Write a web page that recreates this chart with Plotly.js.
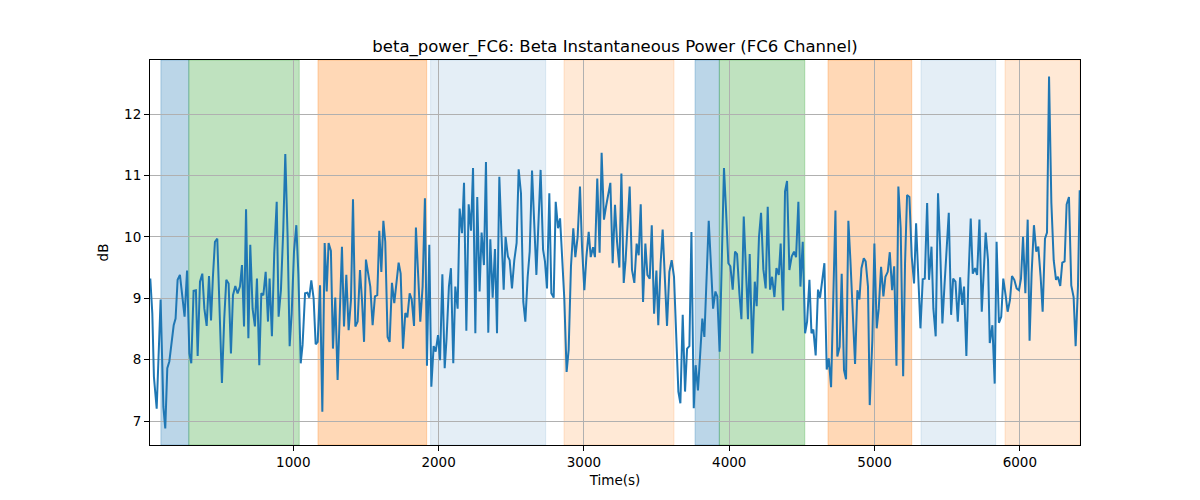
<!DOCTYPE html>
<html>
<head>
<meta charset="utf-8">
<script src="https://cdn.plot.ly/plotly-3.0.1.min.js"></script>
<style>
  body { margin: 0; background: #fff; }
  #chart { width: 1200px; height: 500px; }
</style>
</head>
<body>
<div id="chart"></div>
<script>
// time (s) of each sample
const times = [
  16, 30, 41, 60, 87, 106, 119, 133, 147, 163, 177, 190, 204, 220, 236, 252, 269, 285, 298, 314,
  330, 342, 358, 374, 388, 404, 420, 434, 447, 461, 477, 493, 509, 525, 539, 555, 571, 585, 601, 617,
  633, 647, 661, 675, 691, 704, 720, 736, 750, 766, 780, 794, 810, 826, 837,
  853, 869, 886, 899, 915, 931, 945, 961, 975, 989, 1005, 1021, 1035, 1051, 1064, 1081, 1097, 1110, 1124, 1140,
  1154, 1168, 1184, 1200, 1216, 1230, 1243, 1259, 1273, 1289, 1305, 1321, 1335, 1349, 1365, 1381, 1397, 1411, 1427, 1443,
  1459, 1473, 1487, 1500, 1516, 1530, 1546, 1562, 1578, 1592, 1606, 1620, 1633, 1649, 1663,
  1679, 1695, 1709, 1725, 1739, 1755, 1771, 1785, 1801, 1815, 1831, 1844, 1860, 1874, 1890, 1906, 1920, 1936, 1950, 1966,
  1980, 1996, 2010, 2026, 2042, 2055, 2071, 2085, 2101, 2115, 2131, 2145, 2161, 2175, 2191, 2207, 2223, 2237, 2253, 2266,
  2282, 2296, 2312, 2326, 2342, 2356, 2372, 2388, 2402, 2418, 2432, 2448, 2461, 2477, 2489,
  2505, 2521, 2537, 2551, 2567, 2583, 2597, 2613, 2627, 2643, 2657, 2673, 2689, 2702, 2719, 2732, 2746, 2762, 2776, 2792,
  2806, 2822, 2836, 2852, 2865, 2881, 2895, 2911, 2927, 2941, 2957, 2973, 2987, 3003, 3017, 3033, 3047, 3063, 3076, 3092,
  3108, 3122, 3138, 3152, 3168, 3182, 3198, 3214, 3228, 3244, 3258, 3274, 3287, 3303, 3315,
  3331, 3347, 3363, 3377, 3391, 3407, 3423, 3437, 3453, 3467, 3483, 3499, 3512, 3528, 3542, 3558, 3572, 3588, 3604, 3620,
  3634, 3650, 3664, 3680, 3696, 3710, 3726, 3740, 3756, 3769, 3785, 3799, 3815, 3829, 3845, 3859, 3875, 3889, 3905, 3918,
  3934, 3948, 3964, 3978, 3994, 4008, 4024, 4040, 4054, 4070, 4084, 4100, 4113, 4129, 4141,
  4159, 4176, 4189, 4205, 4219, 4235, 4251, 4265, 4281, 4295, 4311, 4325, 4341, 4354, 4371, 4384, 4398, 4414, 4430, 4446,
  4460, 4476, 4490, 4506, 4522, 4536, 4552, 4566, 4579, 4595, 4611, 4625, 4641, 4655, 4671, 4685, 4701, 4715, 4731, 4744,
  4760, 4774, 4790, 4804, 4820, 4834, 4850, 4866, 4882, 4896, 4910, 4926, 4939, 4955, 4967,
  4985, 4999, 5015, 5029, 5045, 5061, 5075, 5091, 5105, 5121, 5135, 5151, 5164, 5180, 5197, 5210, 5224, 5240, 5256, 5272,
  5286, 5302, 5316, 5332, 5346, 5362, 5375, 5392, 5405, 5421, 5437, 5451, 5467, 5481, 5497, 5511, 5527, 5541, 5557, 5573,
  5589, 5603, 5616, 5632, 5646, 5662, 5676, 5692, 5706, 5722, 5738, 5752, 5765, 5781, 5793,
  5811, 5827, 5840, 5856, 5872, 5886, 5902, 5916, 5932, 5946, 5962, 5978, 5994, 6008, 6022, 6038, 6054, 6067, 6081, 6097,
  6113, 6127, 6143, 6157, 6173, 6187, 6201, 6217, 6233, 6249, 6262, 6278, 6292, 6308, 6322, 6338, 6354, 6370, 6384, 6400, 6412
];

// beta power in dB
const power = [
  9.32, 8.75, 7.72, 7.2, 8.98, 7.23, 6.88, 7.86, 7.97, 8.27, 8.56, 8.67, 9.3, 9.38, 9.08, 8.7, 9.45, 8.1, 7.94, 9.12,
  9.13, 8.06, 9.27, 9.4, 8.83, 8.55, 9.36, 8.64, 9.35, 9.92, 9.97, 8.7, 7.62, 8.67, 9.3, 9.24, 8.1, 9.05, 9.2, 9.08,
  9.19, 9.54, 8.54, 10.45, 8.35, 9.87, 8.83, 8.54, 9.32, 7.91, 9.08, 9.05, 9.43, 8.62, 9.32,
  8.38, 9.73, 10.57, 8.7, 9.13, 10.11, 11.35, 10.0, 8.22, 8.75, 9.76, 10.19, 9.4, 7.94, 8.24, 9.08, 9.09, 9.01, 9.29, 9.0,
  8.25, 8.29, 9.21, 7.15, 9.9, 9.11, 9.9, 9.77, 8.18, 9.01, 7.67, 8.97, 9.84, 8.54, 9.38, 8.48, 8.97, 10.61, 8.54, 8.62,
  9.46, 8.97, 8.29, 9.63, 9.4, 9.19, 8.56, 9.03, 9.05, 10.1, 9.43, 10.26, 9.92, 8.37, 8.29,
  9.25, 8.92, 9.19, 9.58, 9.4, 8.18, 8.76, 8.69, 9.08, 8.98, 8.55, 10.15, 9.35, 8.62, 9.19, 10.63, 7.9, 9.87, 7.56, 8.22,
  8.13, 8.4, 7.99, 9.39, 7.86, 8.35, 9.19, 9.49, 7.94, 9.19, 8.83, 10.46, 10.06, 10.88, 8.47, 10.53, 10.1, 11.12, 8.43, 10.65,
  9.11, 10.07, 9.54, 11.22, 8.44, 9.96, 9.01, 9.8, 8.43, 10.98, 10.08, 9.14, 10.0, 9.68, 9.62,
  9.16, 9.62, 9.9, 11.1, 10.71, 8.94, 8.62, 9.35, 9.76, 11.08, 10.19, 9.38, 10.33, 11.09, 9.79, 9.6, 9.16, 10.71, 9.08, 9.01,
  10.57, 10.14, 10.3, 9.57, 9.0, 7.8, 8.16, 9.52, 10.14, 9.67, 10.0, 10.82, 9.84, 9.13, 9.67, 10.08, 9.67, 9.83, 9.67, 10.95,
  9.74, 11.37, 10.28, 10.49, 10.71, 10.88, 9.57, 10.52, 9.92, 9.5, 11.03, 9.25, 9.62, 10.33, 10.82,
  9.46, 9.25, 9.89, 9.7, 10.53, 8.94, 9.89, 9.38, 9.32, 10.19, 8.75, 9.45, 8.56, 9.57, 10.12, 9.13, 8.55, 9.43, 9.62, 9.35,
  8.43, 7.48, 7.29, 8.73, 7.48, 8.18, 8.22, 10.08, 7.21, 7.91, 7.5, 8.16, 8.67, 8.37, 9.4, 10.26, 9.51, 8.83, 9.11, 9.03,
  8.13, 9.81, 11.12, 10.44, 9.57, 9.52, 9.14, 9.76, 9.72, 9.08, 8.66, 10.33, 9.62, 8.66, 9.72,
  8.1, 9.27, 8.87, 10.0, 10.39, 9.47, 9.16, 10.49, 9.14, 9.35, 9.02, 9.49, 9.38, 9.89, 8.8, 10.74, 10.91, 9.46, 9.68, 9.76,
  9.67, 10.57, 9.19, 9.92, 8.43, 8.62, 9.3, 8.43, 8.49, 8.07, 9.14, 9.01, 9.35, 9.57, 7.84, 8.02, 7.55, 9.14, 10.43, 8.05,
  8.21, 9.4, 7.83, 7.68, 10.26, 9.62, 8.64, 7.93, 9.13, 8.98, 9.49, 9.65, 9.6, 9.19, 7.26,
  8.32, 9.89, 8.51, 8.83, 9.51, 9.03, 9.35, 9.43, 9.75, 9.13, 9.52, 7.9, 10.82, 10.14, 7.73, 9.57, 10.68, 10.65, 9.68, 9.24,
  10.22, 9.3, 8.51, 9.31, 9.32, 10.55, 9.3, 9.84, 8.83, 8.38, 10.71, 9.87, 8.59, 9.19, 9.84, 10.39, 8.73, 9.32, 9.27, 8.62,
  9.34, 8.89, 9.19, 8.06, 9.3, 10.3, 9.4, 9.49, 9.38, 10.28, 8.78, 9.35, 10.07, 9.62, 8.27,
  8.56, 7.61, 9.92, 8.6, 8.7, 9.32, 9.05, 8.78, 8.97, 9.36, 9.3, 9.16, 9.13, 9.32, 10.0, 9.08, 10.28, 8.31, 9.4, 10.19,
  9.76, 9.84, 9.35, 8.78, 9.97, 10.07, 12.61, 10.55, 9.62, 9.3, 9.35, 9.2, 9.58, 9.6, 10.53, 10.65, 9.21, 9.02, 8.22, 9.19, 10.76
];

// shaded task segments (start / end in seconds)
const segStart = [89, 281, 1170, 1945, 2863, 3765, 3932, 4680, 5320, 5898];
const segEnd = [281, 1041, 1918, 2737, 3620, 3932, 4520, 5256, 5834, 6414];
const segKind = [0, 1, 2, 3, 4, 0, 1, 2, 3, 4];

const yTicks = [7, 8, 9, 10, 11, 12];
const xTicks = [1000, 2000, 3000, 4000, 5000, 6000];

const kindColors = [
    "rgba(31, 119, 180, 0.3)",
    "rgba(44, 160, 44, 0.3)",
    "rgba(255, 127, 14, 0.3)",
    "rgba(31, 119, 180, 0.12)",
    "rgba(255, 127, 14, 0.17)",
];

const shapes = segStart.map((s, i) => ({
    type: "rect",
    xref: "x",
    yref: "paper",
    x0: s,
    x1: segEnd[i],
    y0: 0,
    y1: 1,
    fillcolor: kindColors[segKind[i]],
    line: { color: kindColors[segKind[i]], width: 1 },
    layer: "below",
}));

const data = [
    {
        x: times,
        y: power,
        type: "scatter",
        mode: "lines",
        line: { color: "#1f77b4", width: 2 },
        hoverinfo: "x+y",
    },
];

const axisCommon = {
    showline: true,
    mirror: true,
    linecolor: "#000",
    linewidth: 1,
    ticks: "outside",
    ticklen: 5,
    tickwidth: 1,
    tickcolor: "#000",
    showgrid: true,
    gridcolor: "#b0b0b0",
    gridwidth: 0.8,
    zeroline: false,
    tickfont: { family: "DejaVu Sans", size: 13.5, color: "#000" },
};

const layout = {
    width: 1200,
    height: 500,
    margin: { l: 150, r: 120, t: 60, b: 55 },
    paper_bgcolor: "#fff",
    plot_bgcolor: "#fff",
    showlegend: false,
    font: { family: "DejaVu Sans", color: "#000" },
    title: {
        text: "beta_power_FC6: Beta Instantaneous Power (FC6 Channel)",
        font: { family: "DejaVu Sans", size: 16.5, color: "#000" },
        x: 0.5,
        xref: "paper",
        y: 1 - 46 / 500,
        yref: "container",
        yanchor: "middle",
    },
    xaxis: {
        ...axisCommon,
        range: [14, 6414],
        tickvals: xTicks,
        ticktext: xTicks.map(String),
        title: { text: "Time(s)", font: { family: "DejaVu Sans", size: 13.5, color: "#000" }, standoff: 6 },
    },
    yaxis: {
        ...axisCommon,
        range: [6.61, 12.88],
        tickvals: yTicks,
        ticktext: yTicks.map(String),
        title: { text: "dB", font: { family: "DejaVu Sans", size: 13.5, color: "#000" }, standoff: 12 },
    },
    shapes: shapes,
};

Plotly.newPlot(document.getElementById("chart"), data, layout, { displayModeBar: false });
</script>
</body>
</html>
